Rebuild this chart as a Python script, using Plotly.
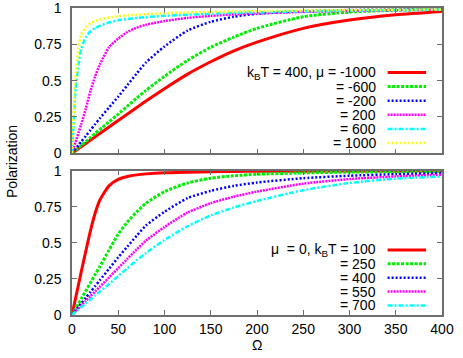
import plotly.graph_objects as go

# ---------------- data ----------------
omega = [0, 2, 4, 7, 10, 15, 20, 25, 30, 40, 50, 60, 70, 80, 100, 125, 150, 175, 200, 250, 300, 350, 400]

# top panel: k_B T = 400, varying mu
top_labels = ["k<sub>B</sub>T = 400, μ = -1000", "= -600", "= -200", "= 200", "= 600", "= 1000"]
top_mu_m1000 = [0, 0.009, 0.018, 0.032, 0.045, 0.068, 0.091, 0.113, 0.136, 0.181, 0.226, 0.27, 0.315, 0.36, 0.445, 0.545, 0.63, 0.705, 0.765, 0.86, 0.917, 0.953, 0.976]
top_mu_m600 = [0, 0.011, 0.022, 0.038, 0.054, 0.081, 0.109, 0.136, 0.163, 0.217, 0.27, 0.325, 0.38, 0.433, 0.53, 0.64, 0.73, 0.8, 0.86, 0.94, 0.972, 0.985, 0.99]
top_mu_m200 = [0, 0.016, 0.032, 0.056, 0.08, 0.12, 0.16, 0.2, 0.24, 0.315, 0.39, 0.47, 0.55, 0.625, 0.735, 0.845, 0.905, 0.94, 0.96, 0.978, 0.986, 0.99, 0.993]
top_mu_200 = [0, 0.04, 0.08, 0.14, 0.2, 0.31, 0.43, 0.53, 0.61, 0.73, 0.79, 0.835, 0.865, 0.885, 0.91, 0.932, 0.946, 0.956, 0.963, 0.973, 0.98, 0.985, 0.988]
top_mu_600 = [0, 0.24, 0.45, 0.61, 0.72, 0.8, 0.84, 0.862, 0.877, 0.9, 0.915, 0.924, 0.931, 0.937, 0.946, 0.954, 0.961, 0.966, 0.97, 0.977, 0.982, 0.986, 0.989]
top_mu_1000 = [0, 0.31, 0.55, 0.72, 0.82, 0.87, 0.895, 0.91, 0.922, 0.935, 0.943, 0.949, 0.954, 0.958, 0.964, 0.969, 0.973, 0.976, 0.978, 0.982, 0.985, 0.988, 0.99]

# bottom panel: mu = 0, varying k_B T
bot_labels = ["μ\u00a0 = 0, k<sub>B</sub>T = 100", "= 250", "= 400", "= 550", "= 700"]
bot_kt_100 = [0, 0.06, 0.12, 0.21, 0.3, 0.445, 0.585, 0.705, 0.795, 0.895, 0.94, 0.96, 0.971, 0.978, 0.986, 0.99, 0.993, 0.995, 0.996, 0.997, 0.998, 0.998, 0.999]
bot_kt_250 = [0, 0.022, 0.045, 0.079, 0.112, 0.168, 0.224, 0.28, 0.335, 0.45, 0.56, 0.645, 0.715, 0.775, 0.855, 0.915, 0.948, 0.965, 0.975, 0.985, 0.99, 0.993, 0.995]
bot_kt_400 = [0, 0.016, 0.032, 0.056, 0.08, 0.12, 0.16, 0.2, 0.24, 0.32, 0.4, 0.475, 0.55, 0.62, 0.715, 0.81, 0.86, 0.895, 0.918, 0.948, 0.965, 0.976, 0.983]
bot_kt_550 = [0, 0.013, 0.026, 0.045, 0.065, 0.098, 0.13, 0.163, 0.195, 0.26, 0.325, 0.39, 0.455, 0.515, 0.61, 0.71, 0.775, 0.82, 0.855, 0.91, 0.942, 0.96, 0.972]
bot_kt_700 = [0, 0.011, 0.022, 0.038, 0.054, 0.081, 0.108, 0.135, 0.162, 0.215, 0.27, 0.325, 0.38, 0.43, 0.52, 0.615, 0.69, 0.745, 0.79, 0.865, 0.915, 0.945, 0.96]

x_ticks = [0, 50, 100, 150, 200, 250, 300, 350, 400]
y_ticks = [0, 0.25, 0.5, 0.75, 1]
y_tick_text = ["0", "0.25", "0.5", "0.75", "1"]

# ---------------- styles ----------------
styles = [
    dict(color="#ff0000", width=3, dash="solid"),
    dict(color="#00ee00", width=3, dash="3px,1.5px"),
    dict(color="#0000ff", width=2.5, dash="2px,2px"),
    dict(color="#ff00ff", width=2.5, dash="2px,1px"),
    dict(color="#00ffff", width=2.5, dash="5px,2px,2px,2px"),
    dict(color="#ffff00", width=2.5, dash="2px,2px"),
]

FONT = "Liberation Sans, Arial, sans-serif"
FS = 14
AX = "#6e6e6e"

fig = go.Figure()
top_series = [top_mu_m1000, top_mu_m600, top_mu_m200, top_mu_200, top_mu_600, top_mu_1000]
bot_series = [bot_kt_100, bot_kt_250, bot_kt_400, bot_kt_550, bot_kt_700]

for i, ys in enumerate(top_series):
    fig.add_trace(go.Scatter(x=omega, y=ys, mode="lines", line=dict(**styles[i], shape="spline", smoothing=0.6),
                             xaxis="x", yaxis="y", showlegend=False, name=top_labels[i]))
for i, ys in enumerate(bot_series):
    fig.add_trace(go.Scatter(x=omega, y=ys, mode="lines", line=dict(**styles[i], shape="spline", smoothing=0.6),
                             xaxis="x2", yaxis="y2", showlegend=False, name=bot_labels[i]))

# pixel geometry helpers (layout only)
H, PT, PB = 358, 8, 43
ph = H - PT - PB


def py(Y):
    return (H - PB - Y) / ph


ax_common = dict(showline=True, linecolor=AX, linewidth=1.5, mirror="allticks", ticks="inside",
                 ticklen=5, tickcolor=AX, tickwidth=1.2, showgrid=False, zeroline=False, automargin=False,
                 ticklabeloverflow="allow",
                 tickfont=dict(family=FONT, size=FS, color="black"))

fig.update_layout(
    width=463, height=358,
    margin=dict(l=72, r=21, t=PT, b=PB, autoexpand=False),
    paper_bgcolor="white", plot_bgcolor="white",
    font=dict(family=FONT, size=FS, color="black"),
    xaxis=dict(domain=[0, 1], anchor="y", range=[0, 400], tickvals=x_ticks, showticklabels=False, **ax_common),
    yaxis=dict(domain=[py(153.3), 1], anchor="x", range=[0, 1], tickvals=y_ticks, ticktext=y_tick_text,
               ticklabelstandoff=6, **ax_common),
    xaxis2=dict(domain=[0, 1], anchor="y2", range=[0, 400], tickvals=x_ticks, matches="x",
                ticklabelstandoff=0, **ax_common),
    yaxis2=dict(domain=[0, py(170.7)], anchor="x2", range=[0, 1], tickvals=y_ticks, ticktext=y_tick_text,
                ticklabelstandoff=6, **ax_common),
)

# legends (gnuplot style: text right-aligned, sample on the right)
def add_key(labels, row0, step):
    for i, lab in enumerate(labels):
        yy = py(row0 + i * step)
        fig.add_annotation(text=lab, x=0.827, y=yy, xref="paper", yref="paper", xanchor="right",
                           yanchor="middle", showarrow=False, font=dict(family=FONT, size=FS, color="black"))
        fig.add_shape(type="line", xref="paper", yref="paper", x0=0.853, x1=0.957, y0=yy, y1=yy,
                      line=dict(color=styles[i]["color"], width=styles[i]["width"], dash=styles[i]["dash"]))


add_key(top_labels, 72.5, 14.1)
add_key(bot_labels, 250.0, 13.85)

fig.add_annotation(text="Polarization", textangle=-90, x=(12 - 72) / 370, y=py(162), xref="paper", yref="paper",
                   xanchor="center", yanchor="middle", showarrow=False, font=dict(family=FONT, size=FS))
fig.add_annotation(text="Ω", x=0.5, y=py(345), xref="paper", yref="paper", xanchor="center", yanchor="middle",
                   showarrow=False, font=dict(family=FONT, size=FS))

fig.write_html("out.html", config={"displayModeBar": False},
               post_script="document.body.style.margin='0';document.body.style.overflow='hidden';")
